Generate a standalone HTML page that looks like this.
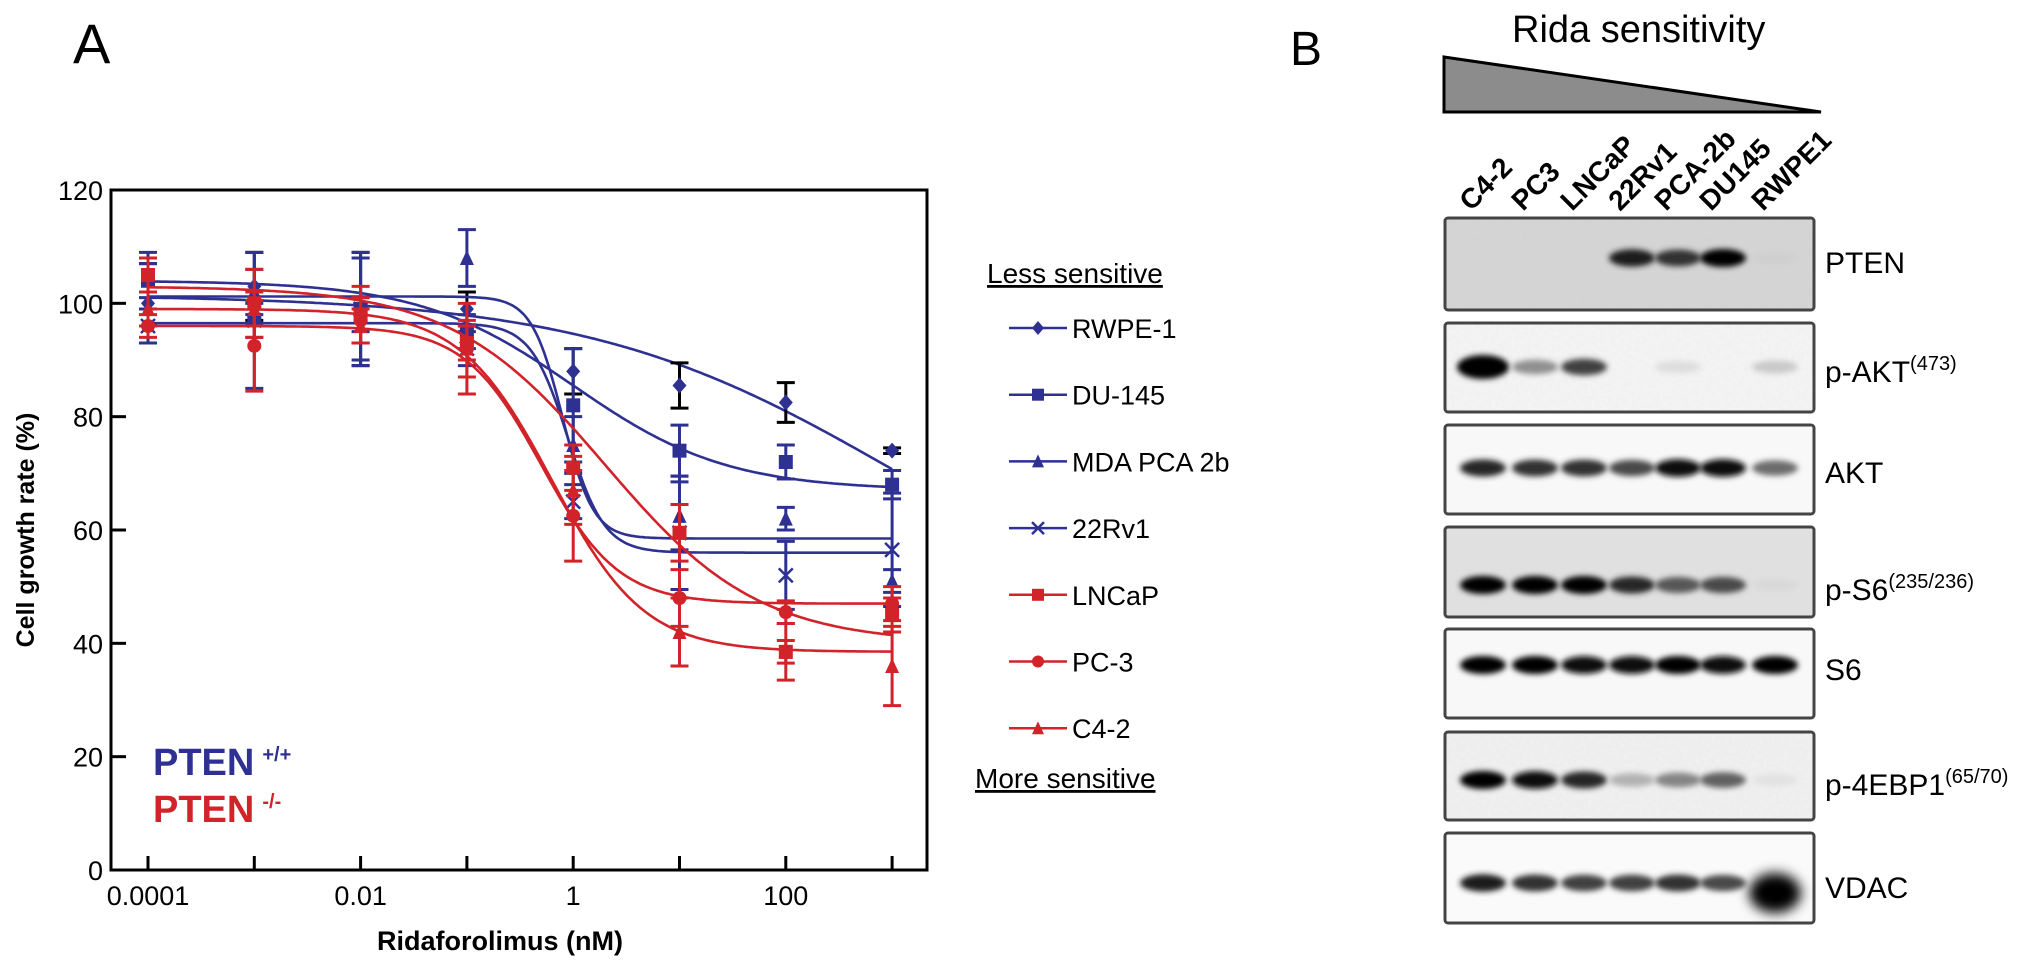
<!DOCTYPE html>
<html><head><meta charset="utf-8">
<style>
html,body{margin:0;padding:0;background:#fff;}
svg{display:block;font-family:"Liberation Sans",Arial,sans-serif;}
</style></head>
<body>
<svg id="fig" width="2031" height="971" viewBox="0 0 2031 971" xmlns="http://www.w3.org/2000/svg">
<defs>
<filter id="blur3" x="-20%" y="-100%" width="140%" height="300%"><feGaussianBlur stdDeviation="3"/></filter>
<filter id="blur6" x="-50%" y="-50%" width="200%" height="200%"><feGaussianBlur stdDeviation="6"/></filter>
<filter id="noise" x="0" y="0" width="100%" height="100%"><feTurbulence type="fractalNoise" baseFrequency="0.25" numOctaves="2" seed="3"/><feColorMatrix type="matrix" values="0 0 0 0 0.5  0 0 0 0 0.5  0 0 0 0 0.5  0 0 0 0.25 0"/></filter>
</defs>
<text x="73" y="63" font-size="56">A</text>
<text x="1290" y="65" font-size="48">B</text>
<g id="chart"></g>
<g id="legend"></g>
<g id="blot"></g>
</svg>
<script>
// ---- chart data ----
const doses = [0.0001, 0.001, 0.01, 0.1, 1, 10, 100, 1000];
const xTickLabels = ["0.0001", "0.01", "1", "100"];
const yTicks = [0, 20, 40, 60, 80, 100, 120];
const seriesNames = ["RWPE-1", "DU-145", "MDA PCA 2b", "22Rv1", "LNCaP", "PC-3", "C4-2"];
const seriesColors = ["#2e3192", "#2e3192", "#2e3192", "#2e3192", "#d2232a", "#d2232a", "#d2232a"];
const seriesMarkers = ["diamond", "square", "triangle", "x", "square", "circle", "triangle"];
const valRWPE = [100, 103, 99, 99, 88, 85.5, 82.5, 74];
const valDU145 = [104, 97, 99, 95, 82, 74, 72, 68];
const valMDA = [104, 102, 98, 108, 75, 62.5, 62, 51];
const val22Rv1 = [96, 97, 99, 92, 65, 59.5, 52, 56.5];
const valLNCaP = [105, 100, 98, 93, 71, 59.5, 38.5, 45];
const valPC3 = [96, 92.5, 97, 92, 62.5, 48, 45.5, 47];
const valC42 = [99, 99, 96, 92, 67, 42, 38.5, 36];
const errRWPE = [7, 6, 10, 3, 4, 4, 3.5, 0.5];
const errDU145 = [3, 3, 10, 3, 10, 4.5, 3, 2.5];
const errMDA = [5, 4, 3, 5, 5, 6, 2, 2];
const err22Rv1 = [3, 12, 9, 3, 3, 10, 6, 10];
const errLNCaP = [3, 6, 5, 3, 4, 5, 2, 3];
const errPC3 = [2, 8, 4, 5, 8, 5, 2, 3];
const errC42 = [3, 3, 3, 8, 6, 6, 5, 7];
// fitted 4-parameter logistic curves: top, bottom, logEC50, hill
const fitTop = [101.5, 104, 101.2, 96.5, 103, 96, 99];
const fitBottom = [40, 67, 58.5, 56, 40, 47, 38.5];
const fitLogEC50 = [3, 0, -0.1, -0.05, 0.3, -0.3, -0.2];
const fitHill = [0.3, 0.6, 3, 2.5, 0.6, 1.2, 1.0];

const allVals = [valRWPE, valDU145, valMDA, val22Rv1, valLNCaP, valPC3, valC42];
const allErrs = [errRWPE, errDU145, errMDA, err22Rv1, errLNCaP, errPC3, errC42];

const NS = "http://www.w3.org/2000/svg";
function mk(tag, attrs, parent) {
  const e = document.createElementNS(NS, tag);
  for (const k in attrs) e.setAttribute(k, attrs[k]);
  if (parent) parent.appendChild(e);
  return e;
}
const PL = 111, PT = 190, PR = 927, PB = 870;
const xScale = d => 148 + (Math.log10(d) + 4) * 106.3;
const yScale = v => PB - v * (PB - PT) / 120;

const chart = document.getElementById('chart');
const frame = mk('rect', {x: PL, y: PT, width: PR - PL, height: PB - PT, fill: 'none', stroke: '#000', 'stroke-width': 3}, chart);


yTicks.forEach(t => {
  const y = yScale(t);
  const tk = mk('line', {x1: PL, x2: PL + 15, y1: y, y2: y, stroke: '#000', 'stroke-width': 3}, chart);
  
  
  const lb = mk('text', {x: PL - 8, y: y + 10, 'font-size': 27, 'text-anchor': 'end'}, chart);
  lb.textContent = t;
  
  
});
doses.forEach(d => {
  const x = xScale(d);
  const tk = mk('line', {x1: x, x2: x, y1: PB, y2: PB - 14, stroke: '#000', 'stroke-width': 3}, chart);
  
  
});
xTickLabels.forEach(s => {
  const lb = mk('text', {x: xScale(parseFloat(s)), y: 905, 'font-size': 27, 'text-anchor': 'middle'}, chart);
  lb.textContent = s;
  
  
});
const xt = mk('text', {x: 500, y: 950, 'font-size': 27, 'font-weight': 'bold', 'text-anchor': 'middle'}, chart);
xt.textContent = 'Ridaforolimus (nM)';


const yt = mk('text', {x: 0, y: 0, 'font-size': 25, 'font-weight': 'bold', 'text-anchor': 'middle', transform: 'translate(34,530) rotate(-90)'}, chart);
yt.textContent = 'Cell growth rate (%)';



function marker(type, cx, cy, color, parent, s) {
  s = s || 7;
  let e;
  if (type === 'diamond') e = mk('polygon', {points: `${cx},${cy - s - 1} ${cx + s},${cy} ${cx},${cy + s + 1} ${cx - s},${cy}`, fill: color}, parent);
  else if (type === 'square') e = mk('rect', {x: cx - s, y: cy - s, width: 2 * s, height: 2 * s, fill: color}, parent);
  else if (type === 'triangle') e = mk('polygon', {points: `${cx},${cy - s - 1} ${cx + s},${cy + s} ${cx - s},${cy + s}`, fill: color}, parent);
  else if (type === 'circle') e = mk('circle', {cx: cx, cy: cy, r: s, fill: color}, parent);
  else { e = mk('path', {d: `M${cx - s},${cy - s}L${cx + s},${cy + s}M${cx - s},${cy + s}L${cx + s},${cy - s}`, stroke: color, 'stroke-width': 2.5, fill: 'none'}, parent); }
  return e;
}
function logistic(i, lx) {
  return fitBottom[i] + (fitTop[i] - fitBottom[i]) / (1 + Math.pow(10, (lx - fitLogEC50[i]) * fitHill[i]));
}
seriesNames.forEach((name, i) => {
  const g = mk('g', {}, chart);
  
  
  const col = seriesColors[i];
  let d = '';
  const lmin = Math.log10(doses[0]), lmax = Math.log10(doses[doses.length - 1]);
  for (let k = 0; k <= 280; k++) {
    const lx = lmin + (lmax - lmin) * k / 280;
    const px = xScale(Math.pow(10, lx)), py = yScale(logistic(i, lx));
    d += (k ? 'L' : 'M') + px.toFixed(1) + ',' + py.toFixed(1);
  }
  const c = mk('path', {d: d, fill: 'none', stroke: col, 'stroke-width': 2.6}, g);
  
  
  const ecol = i === 0 ? '#000' : col;
  doses.forEach((dz, j) => {
    const x = xScale(dz), v = allVals[i][j], e = allErrs[i][j];
    const y1 = yScale(v + e), y2 = yScale(v - e);
    const eb = mk('path', {d: `M${x},${y1}L${x},${y2}M${x - 9},${y1}L${x + 9},${y1}M${x - 9},${y2}L${x + 9},${y2}`, stroke: ecol, 'stroke-width': 3, fill: 'none'}, g);
    
    
    const m = marker(seriesMarkers[i], x, yScale(v), col, g);
    
    
  });
});
const p1 = mk('text', {x: 153, y: 775, 'font-size': 38, fill: '#2e3192', 'font-weight': 'bold'}, chart);
p1.innerHTML = 'PTEN<tspan dx="8" dy="-14" font-size="20">+/+</tspan>';


const p2 = mk('text', {x: 153, y: 822, 'font-size': 38, fill: '#d2232a', 'font-weight': 'bold'}, chart);
p2.innerHTML = 'PTEN<tspan dx="8" dy="-14" font-size="20">-/-</tspan>';



// legend
const legend = document.getElementById('legend');
const lt = mk('text', {x: 987, y: 283, 'font-size': 28, 'text-decoration': 'underline'}, legend);
lt.textContent = 'Less sensitive';


seriesNames.forEach((name, i) => {
  const y = 328 + i * 66.7;
  const g = mk('g', {}, legend);
  
  
  mk('line', {x1: 1009, x2: 1067, y1: y, y2: y, stroke: seriesColors[i], 'stroke-width': 2.5}, g);
  marker(seriesMarkers[i], 1038, y, seriesColors[i], g, 6);
  const t = mk('text', {x: 1072, y: y + 10, 'font-size': 27}, g);
  t.textContent = name;
});
const mt = mk('text', {x: 975, y: 788, 'font-size': 28, 'text-decoration': 'underline'}, legend);
mt.textContent = 'More sensitive';



// ---- western blot ----
const laneNames = ["C4-2", "PC3", "LNCaP", "22Rv1", "PCA-2b", "DU145", "RWPE1"];
const blotLabels = ["PTEN", "p-AKT", "AKT", "p-S6", "S6", "p-4EBP1", "VDAC"];
const blotSup = ["", "(473)", "", "(235/236)", "", "(65/70)", ""];
const bPTEN = [0, 0, 0, 0.9, 0.8, 1, 0.12];
const bPAKT = [1, 0.4, 0.75, 0, 0.06, 0, 0.15];
const bAKT = [0.85, 0.8, 0.8, 0.7, 0.95, 0.95, 0.55];
const bPS6 = [1, 1, 1, 0.85, 0.65, 0.7, 0.08];
const bS6 = [1, 1, 0.95, 0.95, 1, 0.95, 1];
const bP4EBP1 = [1, 0.95, 0.85, 0.25, 0.45, 0.6, 0.04];
const bVDAC = [0.9, 0.8, 0.75, 0.75, 0.8, 0.7, 1];
const blotBands = [bPTEN, bPAKT, bAKT, bPS6, bS6, bP4EBP1, bVDAC];

const blot = document.getElementById('blot');
const lanesX = [1483, 1535, 1584, 1632, 1678, 1723, 1775];
const panelTop = [218, 323, 425, 527, 629, 732, 833];
const panelH = [92, 89, 89, 90, 89, 88, 90];
const bandY = [258, 367, 468, 585, 665, 780, 883];
const panelBg = ['#d6d6d6', '#f6f6f6', '#f8f8f8', '#e0e0e0', '#f8f8f8', '#f2f2f2', '#fafafa'];

const tri = mk('polygon', {points: '1444,57 1821,112 1444,112', fill: '#8c8c8c', stroke: '#000', 'stroke-width': 3}, blot);


const rt = mk('text', {x: 1512, y: 42, 'font-size': 38}, blot);
rt.textContent = 'Rida sensitivity';


laneNames.forEach((n, i) => {
  const t = mk('text', {x: 0, y: 0, 'font-size': 28, 'font-weight': 'bold', transform: `translate(${lanesX[i] - 12},${212}) rotate(-45)`}, blot);
  t.textContent = n;
  
  
});
blotLabels.forEach((lab, p) => {
  const g = mk('g', {}, blot);
  
  
  mk('rect', {x: 1445, y: panelTop[p], width: 369, height: panelH[p], fill: panelBg[p]}, g);
  if (p === 0 || p === 1 || p === 5) mk('rect', {x: 1445, y: panelTop[p], width: 369, height: panelH[p], fill: '#fff', filter: 'url(#noise)', opacity: 0.5}, g);
  blotBands[p].forEach((v, i) => {
    if (v <= 0) return;
    const shade = Math.round(235 - 230 * v);
    const big = (p === 6 && i === 6);
    const wide = (p === 1 && i === 0);
    const b = mk('ellipse', {cx: lanesX[i], cy: bandY[p] + (big ? 10 : 0), rx: big ? 26 : (wide ? 26 : 23), ry: big ? 20 : (wide ? 12 : 6 + 3 * v), fill: `rgb(${shade},${shade},${shade})`, filter: big ? 'url(#blur6)' : 'url(#blur3)'}, g);
    
    
  });
  mk('rect', {x: 1445, y: panelTop[p], width: 369, height: panelH[p], fill: 'none', stroke: '#444', 'stroke-width': 3, rx: 3}, g);
  const t = mk('text', {x: 1825, y: bandY[p] + 15, 'font-size': 30}, g);
  t.innerHTML = lab + (blotSup[p] ? `<tspan dy="-12" font-size="20">${blotSup[p]}</tspan>` : '');
  
  
});
</script>
</body></html>
